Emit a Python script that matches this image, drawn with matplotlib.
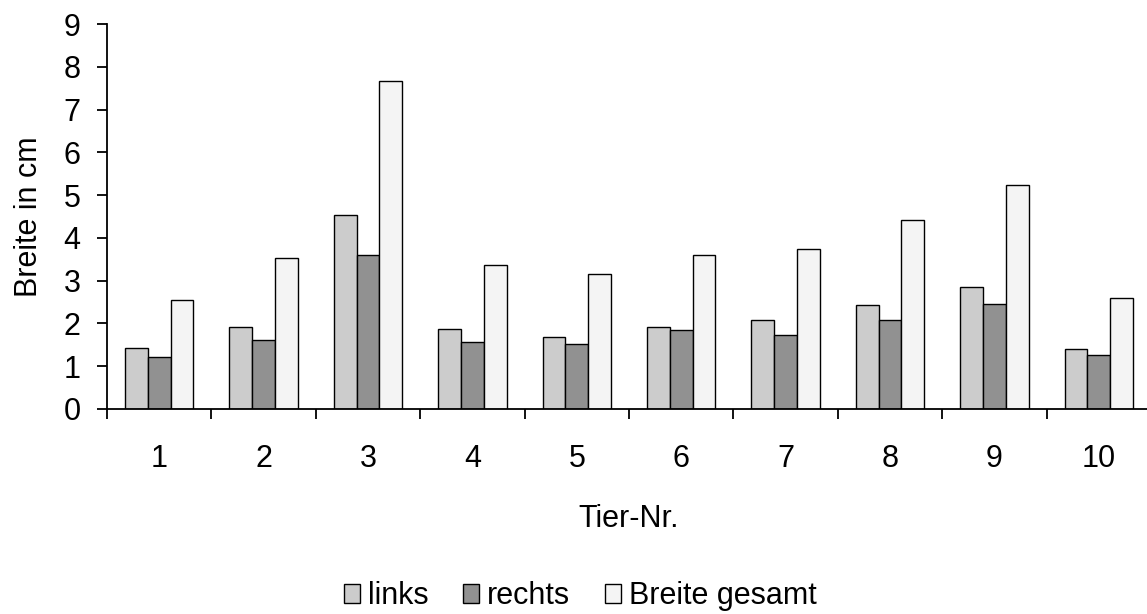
import numpy as np
import matplotlib
matplotlib.use("Agg")
import matplotlib.pyplot as plt
from matplotlib.ticker import FixedLocator

plt.rcParams['font.family'] = ['Liberation Sans', 'DejaVu Sans']

# Werte
tiere = ['1', '2', '3', '4', '5', '6', '7', '8', '9', '10']
links = [1.42, 1.91, 4.53, 1.86, 1.69, 1.92, 2.08, 2.42, 2.85, 1.40]
rechts = [1.22, 1.62, 3.61, 1.56, 1.53, 1.85, 1.72, 2.07, 2.46, 1.27]
gesamt = [2.54, 3.52, 7.67, 3.37, 3.15, 3.60, 3.74, 4.42, 5.24, 2.60]
y_ticks = [0, 1, 2, 3, 4, 5, 6, 7, 8, 9]

fs = 22
fig = plt.figure(figsize=(11.47, 6.14), dpi=100)
ax = fig.add_axes([107 / 1147, 205 / 614, 1044 / 1147, 385 / 614])

x = np.arange(1, len(tiere) + 1)
w = 0.219
ax.bar(x - w, links, w, color='#cccccc', edgecolor='black', linewidth=1.0, label='links')
ax.bar(x, rechts, w, color='#919191', edgecolor='black', linewidth=1.0, label='rechts')
ax.bar(x + w, gesamt, w, color='#f4f4f4', edgecolor='black', linewidth=1.0, label='Breite gesamt')

ax.set_xlim(0.5, len(tiere) + 0.5)
ax.set_ylim(0, 9)
ax.set_yticks(y_ticks)
ax.set_yticklabels([str(v) for v in y_ticks], fontsize=fs)

# Striche zwischen den Gruppen, Beschriftung in der Mitte
ax.xaxis.set_major_locator(FixedLocator(np.arange(0.5, len(tiere) + 1, 1)))
ax.xaxis.set_minor_locator(FixedLocator(x))
ax.set_xticklabels([], minor=False)
ax.set_xticklabels(tiere, minor=True, fontsize=fs)
ax.tick_params(axis='x', which='major', length=7, width=1.3, direction='out')
ax.tick_params(axis='x', which='minor', length=0, pad=25)
ax.tick_params(axis='y', length=7, width=1.3, direction='out', pad=12)

for s in ['top', 'right']:
    ax.spines[s].set_visible(False)
for s in ['left', 'bottom']:
    ax.spines[s].set_linewidth(1.3)

ax.set_xlabel('Tier-Nr.', fontsize=fs, labelpad=22)
ax.set_ylabel('Breite in cm', fontsize=fs, labelpad=14)

fig.legend(loc='center', bbox_to_anchor=(0.506, 0.029), ncol=3, frameon=False,
           fontsize=fs, handlelength=0.52, handleheight=0.55, handletextpad=0.25,
           columnspacing=1.15, borderpad=0)

fig.savefig('out.png', dpi=100)
